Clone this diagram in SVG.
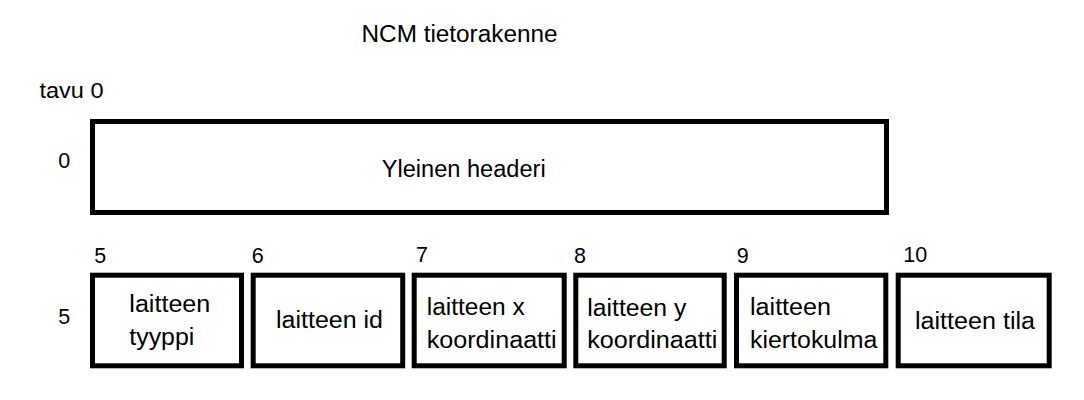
<svg xmlns="http://www.w3.org/2000/svg" width="1084" height="400" viewBox="0 0 1084 400">
<style>
.box{fill:#fff;stroke:#000;stroke-width:5}
text{font-family:"Liberation Sans","Open Sans",Arial,sans-serif;font-size:21.5px;fill:#000}
.t{font-size:23.5px}
</style>
<rect width="1084" height="400" fill="#fff"/>
<text class="t" x="361.5" y="41.7" textLength="196" lengthAdjust="spacingAndGlyphs">NCM tietorakenne</text>
<text x="39.5" y="98.3" textLength="64" lengthAdjust="spacingAndGlyphs">tavu 0</text>
<text x="58.3" y="168.3">0</text>
<text x="58.3" y="324.3">5</text>
<g id="offsets">
<text x="94.3" y="263">5</text>
<text x="251.7" y="263">6</text>
<text x="416" y="262">7</text>
<text x="574" y="263">8</text>
<text x="736.7" y="263">9</text>
<text x="903.3" y="262.3">10</text>
</g>
<g id="connectors"></g>
<g id="header">
<rect class="box" x="92.5" y="121.5" width="794" height="91"/>
<text class="t" x="381.7" y="176.7" textLength="164" lengthAdjust="spacingAndGlyphs">Yleinen headeri</text>
</g>
<g id="tyyppi">
<rect class="box" x="92.5" y="275.2" width="149" height="90.6"/>
<text class="t" x="129.3" y="312.3" textLength="81" lengthAdjust="spacingAndGlyphs">laitteen</text>
<text class="t" x="129.3" y="345" textLength="65" lengthAdjust="spacingAndGlyphs">tyyppi</text>
</g>
<g id="id">
<rect class="box" x="253.2" y="275.2" width="149.5" height="90.6"/>
<text class="t" x="276" y="328.3" textLength="107" lengthAdjust="spacingAndGlyphs">laitteen id</text>
</g>
<g id="x">
<rect class="box" x="414.2" y="275.2" width="150" height="90.6"/>
<text class="t" x="426.7" y="315" textLength="98" lengthAdjust="spacingAndGlyphs">laitteen x</text>
<text class="t" x="426.7" y="348.3" textLength="130" lengthAdjust="spacingAndGlyphs">koordinaatti</text>
</g>
<g id="y">
<rect class="box" x="575.8" y="275.2" width="148.4" height="90.6"/>
<text class="t" x="587.3" y="315.7" textLength="99" lengthAdjust="spacingAndGlyphs">laitteen y</text>
<text class="t" x="587.3" y="348.3" textLength="130" lengthAdjust="spacingAndGlyphs">koordinaatti</text>
</g>
<g id="kierto">
<rect class="box" x="736.5" y="275.2" width="149.3" height="90.6"/>
<text class="t" x="750" y="315" textLength="81" lengthAdjust="spacingAndGlyphs">laitteen</text>
<text class="t" x="750" y="348.3" textLength="127.3" lengthAdjust="spacingAndGlyphs">kiertokulma</text>
</g>
<g id="tila">
<rect class="box" x="898.2" y="275.2" width="151" height="90.6"/>
<text class="t" x="915" y="329" textLength="120" lengthAdjust="spacingAndGlyphs">laitteen tila</text>
</g>
</svg>
